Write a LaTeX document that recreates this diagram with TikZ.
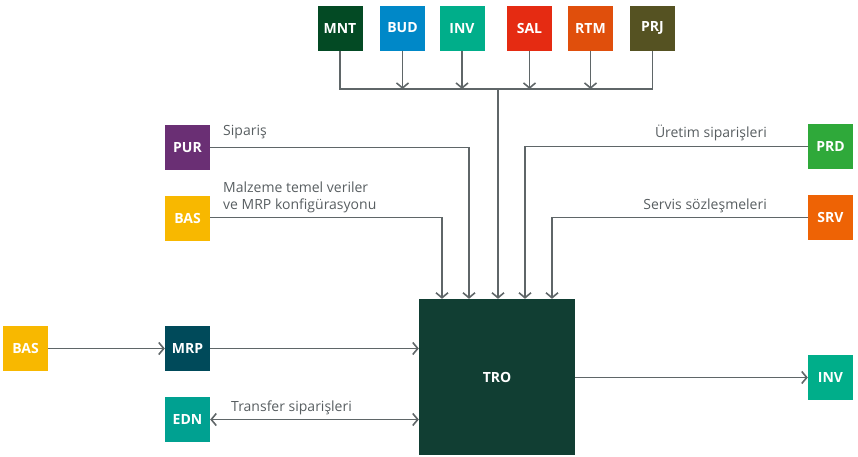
\documentclass[tikz,border=0pt]{standalone}
\usepackage{fontspec}
\setmainfont{Open Sans}
\usetikzlibrary{arrows.meta,positioning}

\definecolor{linegray}{HTML}{5F6668}
\definecolor{textgray}{HTML}{585E61}
\definecolor{cmnt}{HTML}{034A24}
\definecolor{cbud}{HTML}{0088C8}
\definecolor{cinv}{HTML}{00AE8A}
\definecolor{csal}{HTML}{E52B12}
\definecolor{crtm}{HTML}{E04F0C}
\definecolor{cprj}{HTML}{555222}
\definecolor{cpur}{HTML}{6A2F74}
\definecolor{cbas}{HTML}{F8B800}
\definecolor{cprd}{HTML}{2FA93A}
\definecolor{csrv}{HTML}{EE6305}
\definecolor{cmrp}{HTML}{004A5A}
\definecolor{cedn}{HTML}{00A191}
\definecolor{ctro}{HTML}{113E33}

\tikzset{
	box/.style={minimum width=45pt, minimum height=45pt, inner sep=0pt, text=white, font=\bfseries\fontsize{14}{16}\selectfont},
	link/.style={draw=linegray, line width=1.6pt},
	arr/.style={link, -{Straight Barb[length=5pt,width=12pt]}},
	lbl/.style={text=textgray, inner sep=0pt, font=\fontsize{14}{17}\selectfont}
}

\begin{document}
\begin{tikzpicture}[x=1pt, y=-1pt]
		\useasboundingbox (0,0) rectangle (858,456);
		% top row
		\node[box, fill=cmnt] (mnt) at (340,28) {MNT};
		\node[box, fill=cbud] (bud) at (402.5,28) {BUD};
		\node[box, fill=cinv] (invt) at (462,28) {INV};
		\node[box, fill=csal] (sal) at (529.5,28) {SAL};
		\node[box, fill=crtm] (rtm) at (590.5,28) {RTM};
		\node[box, fill=cprj] (prj) at (652.5,28) {PRJ};
		% centre
		\node[box, fill=ctro, minimum width=156pt, minimum height=156pt] (tro) at (497,377) {TRO};
		\coordinate (bus) at (498,89);
		% sides
		\node[box, fill=cpur] (pur) at (187.5,147.5) {PUR};
		\node[box, fill=cbas] (basu) at (187.5,218.5) {BAS};
		\node[box, fill=cprd] (prd) at (830.5,146.5) {PRD};
		\node[box, fill=csrv] (srv) at (830.5,217.5) {SRV};
		\node[box, fill=cbas] (basl) at (25.5,348.5) {BAS};
		\node[box, fill=cmrp] (mrp) at (187.5,348.5) {MRP};
		\node[box, fill=cedn] (edn) at (187.5,419.5) {EDN};
		\node[box, fill=cinv] (invr) at (830.5,377.5) {INV};
		% labels
		\node[lbl, anchor=west] (sip) at (223,132) {Sipariş};
		\node[lbl, anchor=west, align=left] (malz) at (223,197) {Malzeme temel veriler\\ve MRP konfigürasyonu};
		\node[lbl, anchor=east] (uret) at (767,133) {Üretim siparişleri};
		\node[lbl, anchor=east] (serv) at (767,206) {Servis sözleşmeleri};
		\node[lbl, anchor=west] (trans) at (231,408) {Transfer siparişleri};
		% top bus
		\draw[link] (mnt.south) |- (prj.south |- bus) -- (prj.south);
		\draw[arr] (bud.south) -- (bud.south |- bus);
		\draw[arr] (invt.south) -- (invt.south |- bus);
		\draw[arr] (sal.south) -- (sal.south |- bus);
		\draw[arr] (rtm.south) -- (rtm.south |- bus);
		\draw[arr] (bus) -- (bus |- tro.north);
		% inputs from the sides
		\draw[arr] (pur.east) -| ([xshift=-28pt]tro.north);
		\draw[arr] ([yshift=1pt]basu.east) -| ([xshift=-55pt]tro.north);
		\draw[arr] (prd.west) -| ([xshift=28pt]tro.north);
		\draw[arr] (srv.west) -| ([xshift=55pt]tro.north);
		% bottom
		\draw[arr] (basl.east) -- (mrp.west);
		\draw[arr] (mrp.east) -- (mrp.east -| tro.west);
		\draw[link, {Straight Barb[length=5pt,width=12pt]}-{Straight Barb[length=5pt,width=12pt]}] (edn.east) -- (edn.east -| tro.west);
		\draw[arr] (tro.east |- invr.west) -- (invr.west);
		\end{tikzpicture}
\end{document}
